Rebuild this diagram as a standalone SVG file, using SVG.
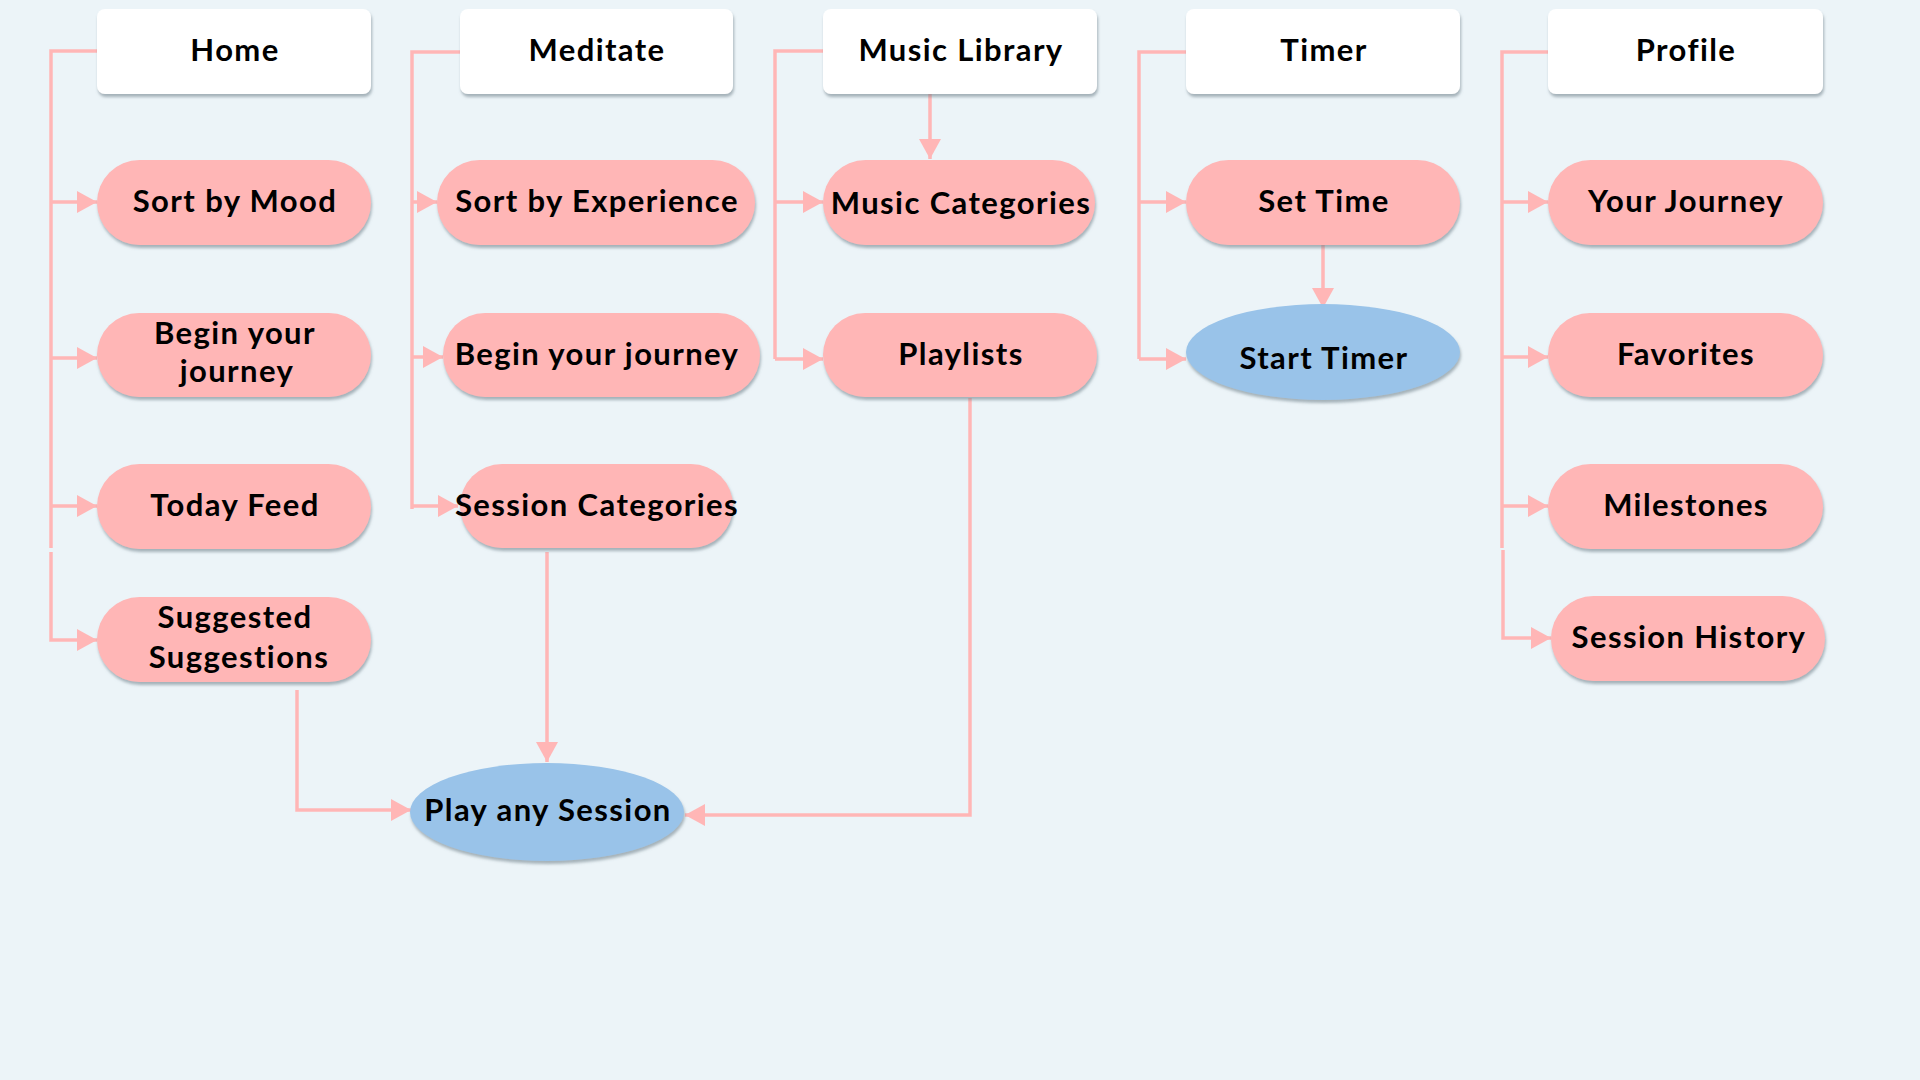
<svg xmlns="http://www.w3.org/2000/svg" width="1920" height="1080" viewBox="0 0 1920 1080">
<defs>
<filter id="sh" x="-10%" y="-20%" width="120%" height="150%">
<feDropShadow dx="1" dy="3" stdDeviation="1.5" flood-color="#6b7b85" flood-opacity="0.55"/>
</filter>
<marker id="ah" markerUnits="userSpaceOnUse" markerWidth="20" markerHeight="22" refX="20" refY="11" orient="auto">
<path d="M0,0 L20,11 L0,22 z" fill="#FFB6B6"/>
</marker>
</defs>
<style>
.hdr{fill:#ffffff;filter:url(#sh)}
.pill{fill:#FFB6B6;filter:url(#sh)}
.oval{fill:#99C3E9;filter:url(#sh)}
text{font-family:Lato,"Open Sans",sans-serif;font-weight:700;font-size:31px;letter-spacing:1.4px;fill:#000;text-anchor:middle}
.ln{fill:none;stroke:#FFB6B6;stroke-width:3.5}
.ar{fill:none;stroke:#FFB6B6;stroke-width:3.5;marker-end:url(#ah)}
</style>
<rect width="1920" height="1080" fill="#ECF4F8"/>
<g id="connectors">
<path class="ln" d="M97,51 H51 V548"/>
<path class="ar" d="M51,202 H97"/>
<path class="ar" d="M51,358 H97"/>
<path class="ar" d="M51,506 H97"/>
<path class="ar" d="M51,552 V640 H97"/>
<path class="ln" d="M460,52 H412 V509"/>
<path class="ar" d="M412,202 H437"/>
<path class="ar" d="M412,357 H443"/>
<path class="ar" d="M412,506 H458"/>
<path class="ln" d="M824,51 H775 V359"/>
<path class="ar" d="M775,202 H823"/>
<path class="ar" d="M775,359 H823"/>
<path class="ar" d="M930,94 V159"/>
<path class="ln" d="M1186,52 H1139 V359"/>
<path class="ar" d="M1139,202 H1186"/>
<path class="ar" d="M1139,359 H1186"/>
<path class="ar" d="M1323,245 V308"/>
<path class="ln" d="M1548,52 H1502 V548"/>
<path class="ar" d="M1502,202 H1548"/>
<path class="ar" d="M1502,357 H1548"/>
<path class="ar" d="M1502,506 H1548"/>
<path class="ar" d="M1503,550 V638 H1551"/>
<path class="ar" d="M547,552 V762"/>
<path class="ar" d="M297,690 V810 H411"/>
<path class="ar" d="M970,398 V815 H685"/>
</g>
<g id="home"><rect class="hdr" x="97" y="9" width="274" height="85" rx="8"/><text x="235" y="61">Home</text></g>
<g id="sort-by-mood"><rect class="pill" x="97" y="160" width="274" height="85" rx="42.5"/><text x="235" y="212">Sort by Mood</text></g>
<g id="home-begin"><rect class="pill" x="97" y="313" width="274" height="84" rx="42"/><text x="235" y="344">Begin your</text><text x="237" y="382">journey</text></g>
<g id="today-feed"><rect class="pill" x="97" y="464" width="274" height="85" rx="42.5"/><text x="235" y="516">Today Feed</text></g>
<g id="suggested"><rect class="pill" x="97" y="597" width="274" height="85" rx="42.5"/><text x="235" y="628">Suggested</text><text x="239" y="668">Suggestions</text></g>
<g id="meditate"><rect class="hdr" x="460" y="9" width="273" height="85" rx="8"/><text x="597" y="61">Meditate</text></g>
<g id="sort-by-experience"><rect class="pill" x="437" y="160" width="318" height="85" rx="42.5"/><text x="597" y="212">Sort by Experience</text></g>
<g id="meditate-begin"><rect class="pill" x="443" y="313" width="317" height="84" rx="42"/><text x="597" y="365">Begin your journey</text></g>
<g id="session-categories"><rect class="pill" x="460" y="464" width="273" height="84" rx="42"/><text x="597" y="516">Session Categories</text></g>
<g id="play-any-session"><ellipse class="oval" cx="547" cy="812" rx="137" ry="49"/><text x="548" y="821">Play any Session</text></g>
<g id="music-library"><rect class="hdr" x="823" y="9" width="274" height="85" rx="8"/><text x="961" y="61">Music Library</text></g>
<g id="music-categories"><rect class="pill" x="823" y="160" width="272" height="85" rx="42.5"/><text x="961" y="214">Music Categories</text></g>
<g id="playlists"><rect class="pill" x="823" y="313" width="274" height="84" rx="42"/><text x="961" y="365">Playlists</text></g>
<g id="timer"><rect class="hdr" x="1186" y="9" width="274" height="85" rx="8"/><text x="1324" y="61">Timer</text></g>
<g id="set-time"><rect class="pill" x="1186" y="160" width="274" height="85" rx="42.5"/><text x="1324" y="212">Set Time</text></g>
<g id="start-timer"><ellipse class="oval" cx="1323" cy="352" rx="137" ry="48"/><text x="1324" y="369">Start Timer</text></g>
<g id="profile"><rect class="hdr" x="1548" y="9" width="275" height="85" rx="8"/><text x="1686" y="61">Profile</text></g>
<g id="your-journey"><rect class="pill" x="1548" y="160" width="275" height="85" rx="42.5"/><text x="1686" y="212">Your Journey</text></g>
<g id="favorites"><rect class="pill" x="1548" y="313" width="275" height="84" rx="42"/><text x="1686" y="365">Favorites</text></g>
<g id="milestones"><rect class="pill" x="1548" y="464" width="275" height="85" rx="42.5"/><text x="1686" y="516">Milestones</text></g>
<g id="session-history"><rect class="pill" x="1551" y="596" width="274" height="85" rx="42.5"/><text x="1689" y="648">Session History</text></g>
</svg>
